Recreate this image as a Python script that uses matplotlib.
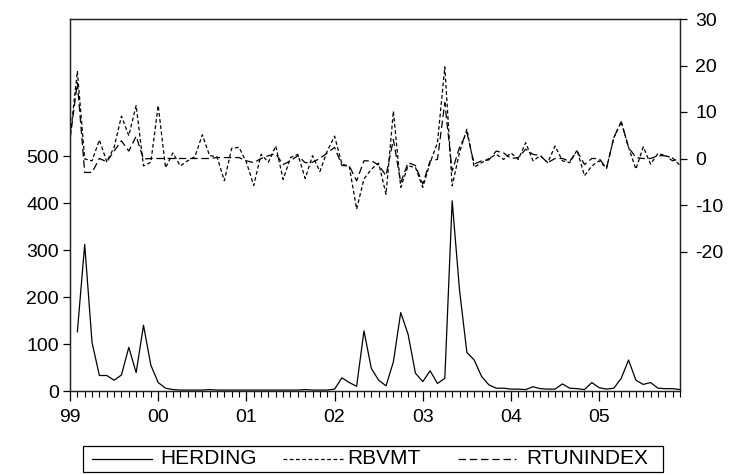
# 画图: HERDING (left axis) vs RBVMT / RTUNINDEX (right axis), monthly 1999-2005
import numpy as np
import matplotlib
matplotlib.use('Agg')
import matplotlib.pyplot as plt
from matplotlib.lines import Line2D
from matplotlib.patches import Rectangle
from matplotlib.ticker import MultipleLocator

plt.rcParams['font.family'] = ['Liberation Sans', 'DejaVu Sans']
plt.rcParams['axes.unicode_minus'] = False

# 数据
year_labels = ['99', '00', '01', '02', '03', '04', '05']
series_names = ['HERDING', 'RBVMT', 'RTUNINDEX']

herding = [np.nan, 126, 312, 103, 33, 33, 23, 34, 93, 39,
           140, 55, 18, 6, 3, 2, 2, 2, 2, 3,
           2, 2, 2, 2, 2, 2, 2, 2, 2, 2,
           2, 2, 3, 2, 2, 2, 4, 28, 18, 10,
           128, 48, 23, 11, 62, 167, 121, 38, 20, 43,
           16, 27, 405, 215, 82, 66, 31, 13, 6, 6,
           4, 4, 3, 9, 5, 4, 4, 15, 6, 5,
           3, 18, 7, 4, 6, 27, 66, 23, 14, 18,
           6, 5, 5, 3]

rbvmt = [4.1, 18.8, -0.1, -0.5, 4.0, -0.7, 2.4, 9.1, 4.9, 11.4,
         -1.6, -0.8, 11.4, -2.0, 1.2, -1.6, -0.5, 0.4, 5.1, 0.6,
         0.4, -4.8, 2.2, 2.4, -0.8, -5.8, 0.9, -0.8, 2.7, -4.5,
         0.2, 0.9, -4.3, 0.6, -2.8, 1.6, 4.8, -1.2, -1.7, -10.9,
         -4.4, -2.3, -1.0, -7.7, 10.2, -6.2, -1.6, -1.9, -6.2, -0.9,
         3.4, 19.7, -5.9, 1.3, 6.3, -1.9, -0.9, 0.0, 0.9, -0.2,
         1.2, -0.2, 3.4, -0.5, 0.6, -0.9, 2.7, -0.5, -0.9, 1.8,
         -3.7, -1.6, -0.5, -2.1, 4.5, 7.9, 2.4, -2.3, 2.5, -1.2,
         1.1, 0.6, 0.1, -1.5]

rtunindex = [4.1, 16.3, -3.0, -3.0, 0.0, -0.7, 1.6, 3.8, 1.6, 4.8,
             -0.1, 0.0, 0.0, 0.0, 0.0, 0.0, 0.0, 0.0, 0.0, 0.0,
             0.2, 0.2, 0.2, 0.2, -0.5, -0.9, 0.0, 0.6, 1.0, -1.3,
             -0.5, 0.6, -0.9, -0.8, 0.0, 1.2, 2.4, -1.5, -1.6, -4.8,
             -0.5, -0.5, -1.4, -3.7, 4.1, -5.2, -0.9, -1.5, -5.5, -0.5,
             -0.2, 12.0, -2.7, 2.4, 5.6, -1.2, -0.5, -0.3, 1.6, 1.2,
             0.0, 0.2, 2.0, 0.9, 0.6, -0.9, 0.0, 0.0, -0.6, 1.6,
             -1.3, 0.0, 0.0, -2.1, 4.5, 7.9, 2.4, 0.2, 0.0, 0.0,
             0.6, 0.6, -0.5, 0.0]

W, H = 735, 475
LW = 0.9
styles = [dict(linestyle='-'), dict(dashes=(3, 2)), dict(dashes=(6, 3))]


def fx(px):
    return px / W


def fy(py):
    return 1 - py / H


def draw_legend(fig):
    # 手工画图例, 位置按像素
    fig.add_artist(Rectangle((fx(83), fy(472)), fx(663) - fx(83),
                             fy(446) - fy(472), transform=fig.transFigure,
                             facecolor='white', edgecolor='black',
                             linewidth=0.9))
    yc = fy(459)
    samples = [(92, 152), (283, 345), (458, 516)]
    text_x = [160, 347, 526]
    for (x0, x1), tx, name, st in zip(samples, text_x, series_names, styles):
        fig.add_artist(Line2D([fx(x0), fx(x1)], [yc, yc], color='black',
                              linewidth=LW, transform=fig.transFigure, **st))
        fig.text(fx(tx), yc, name, fontsize=15, ha='left', va='center')


def plot_chart():
    fig = plt.figure(figsize=(7.35, 4.75), dpi=100)
    ax = fig.add_axes([fx(70), fy(391), fx(680) - fx(70), fy(19) - fy(391)])
    ax2 = ax.twinx()

    x = np.arange(len(herding))
    ax.plot(x, herding, color='black', linewidth=LW, **styles[0])
    ax2.plot(x, rbvmt, color='black', linewidth=LW, **styles[1])
    ax2.plot(x, rtunindex, color='black', linewidth=LW, **styles[2])

    # 坐标轴
    ax.set_xlim(0, len(herding) - 1)
    ax.set_ylim(0, 792)
    ax.set_yticks([0, 100, 200, 300, 400, 500])
    ax2.set_ylim(-50, 30)
    ax2.set_yticks([-20, -10, 0, 10, 20, 30])

    ax.set_xticks(np.arange(0, 84, 12))
    ax.set_xticklabels(year_labels)
    ax.xaxis.set_minor_locator(MultipleLocator(1))

    for a in (ax, ax2):
        for s in a.spines.values():
            s.set_linewidth(0.9)
            s.set_color('#222222')
    ax.tick_params(axis='y', which='major', direction='out', length=5,
                   width=0.9, labelsize=14, pad=3)
    ax.tick_params(axis='x', which='major', direction='out', length=7,
                   width=0.9, labelsize=14, pad=6)
    ax.tick_params(axis='x', which='minor', direction='out', length=4,
                   width=0.8)
    ax2.tick_params(axis='y', direction='out', length=5, width=0.9,
                    labelsize=14, pad=6)

    draw_legend(fig)
    fig.savefig('out.png', dpi=100)


if __name__ == "__main__":
    plot_chart()
